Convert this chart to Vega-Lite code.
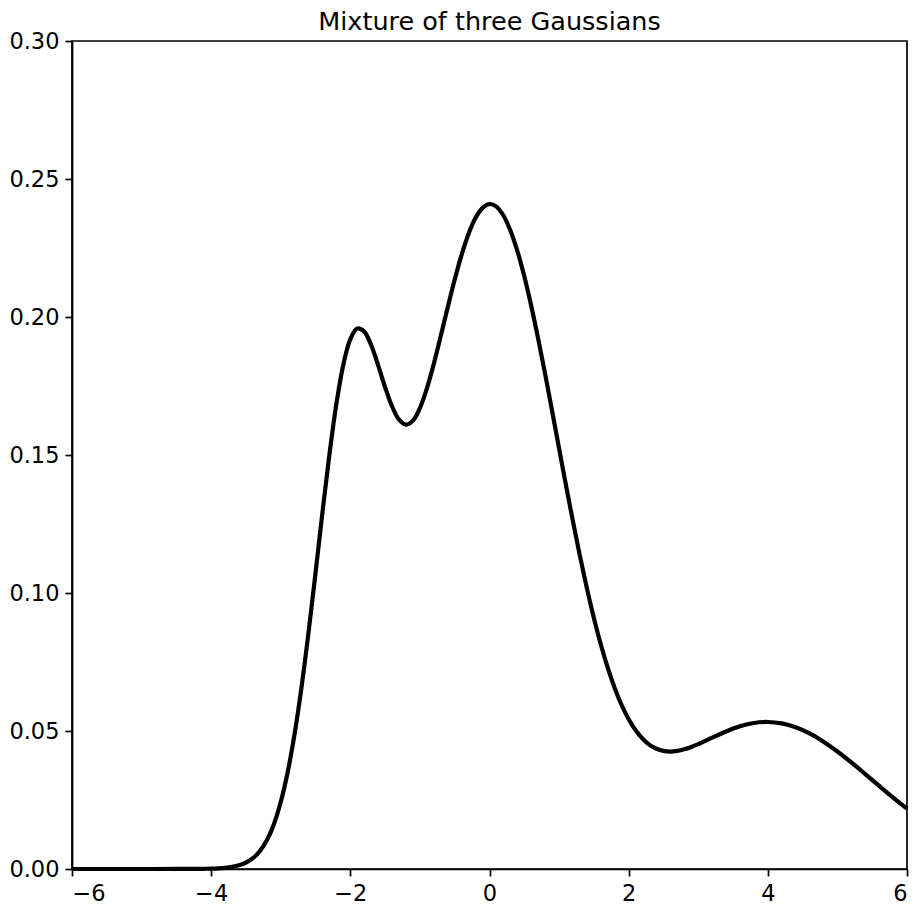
{
  "$schema": "https://vega.github.io/schema/vega-lite/v6.json",
  "autosize": {"type": "none"},
  "width": 835,
  "height": 828,
  "padding": {"left": 72, "top": 41, "right": 8, "bottom": 36},
  "background": "white",
  "title": {
    "text": "Mixture of three Gaussians",
    "font": "DejaVu Sans",
    "fontSize": 25.5,
    "fontWeight": "normal",
    "color": "black",
    "offset": -5,
    "anchor": "middle"
  },
  "config": {
    "view": {"stroke": "black", "strokeWidth": 1.7},
    "axis": {
      "grid": false,
      "domainColor": "black",
      "domainWidth": 1.7,
      "tickColor": "black",
      "tickWidth": 1.7,
      "tickSize": 7,
      "labelFont": "DejaVu Sans",
      "labelFontSize": 22.5,
      "labelColor": "black",
      "labelPadding": 6,
      "title": null
    }
  },
  "data": {
    "values": [
      {"x": -6, "y": 0},
      {"x": -5.5, "y": 0},
      {"x": -5, "y": 0.000001},
      {"x": -4.5, "y": 0.00001},
      {"x": -4.2, "y": 0.000045},
      {"x": -4.1, "y": 0.000077},
      {"x": -4.0, "y": 0.000134},
      {"x": -3.9, "y": 0.000236},
      {"x": -3.8, "y": 0.00042},
      {"x": -3.7, "y": 0.000748},
      {"x": -3.6, "y": 0.00132},
      {"x": -3.5, "y": 0.0023},
      {"x": -3.4, "y": 0.00391},
      {"x": -3.3, "y": 0.00647},
      {"x": -3.2, "y": 0.01039},
      {"x": -3.1, "y": 0.01615},
      {"x": -3.0, "y": 0.02426},
      {"x": -2.9, "y": 0.03515},
      {"x": -2.8, "y": 0.04912},
      {"x": -2.7, "y": 0.06615},
      {"x": -2.6, "y": 0.08583},
      {"x": -2.5, "y": 0.10731},
      {"x": -2.4, "y": 0.12932},
      {"x": -2.3, "y": 0.15029},
      {"x": -2.2, "y": 0.1686},
      {"x": -2.1, "y": 0.18282},
      {"x": -2.0, "y": 0.19199},
      {"x": -1.9, "y": 0.19581},
      {"x": -1.8, "y": 0.19471},
      {"x": -1.7, "y": 0.18976},
      {"x": -1.6, "y": 0.18248},
      {"x": -1.5, "y": 0.17456},
      {"x": -1.4, "y": 0.16759},
      {"x": -1.3, "y": 0.16282},
      {"x": -1.2, "y": 0.16101},
      {"x": -1.1, "y": 0.16245},
      {"x": -1.0, "y": 0.16698},
      {"x": -0.9, "y": 0.1741},
      {"x": -0.8, "y": 0.18309},
      {"x": -0.7, "y": 0.19318},
      {"x": -0.6, "y": 0.20358},
      {"x": -0.5, "y": 0.2136},
      {"x": -0.4, "y": 0.22264},
      {"x": -0.3, "y": 0.2302},
      {"x": -0.2, "y": 0.23593},
      {"x": -0.1, "y": 0.23956},
      {"x": 0, "y": 0.24094},
      {"x": 0.1, "y": 0.24001},
      {"x": 0.2, "y": 0.23678},
      {"x": 0.3, "y": 0.23137},
      {"x": 0.4, "y": 0.22395},
      {"x": 0.5, "y": 0.21474},
      {"x": 0.6, "y": 0.20401},
      {"x": 0.7, "y": 0.19208},
      {"x": 0.8, "y": 0.17928},
      {"x": 0.9, "y": 0.16594},
      {"x": 1.0, "y": 0.15238},
      {"x": 1.1, "y": 0.13892},
      {"x": 1.2, "y": 0.12583},
      {"x": 1.3, "y": 0.11335},
      {"x": 1.4, "y": 0.10168},
      {"x": 1.5, "y": 0.09097},
      {"x": 1.6, "y": 0.08134},
      {"x": 1.7, "y": 0.07284},
      {"x": 1.8, "y": 0.06551},
      {"x": 1.9, "y": 0.05933},
      {"x": 2.0, "y": 0.05426},
      {"x": 2.1, "y": 0.05024},
      {"x": 2.2, "y": 0.04718},
      {"x": 2.3, "y": 0.04498},
      {"x": 2.4, "y": 0.04355},
      {"x": 2.5, "y": 0.04278},
      {"x": 2.6, "y": 0.04256},
      {"x": 2.7, "y": 0.04279},
      {"x": 2.8, "y": 0.04337},
      {"x": 2.9, "y": 0.04422},
      {"x": 3.0, "y": 0.04525},
      {"x": 3.2, "y": 0.04757},
      {"x": 3.4, "y": 0.04984},
      {"x": 3.6, "y": 0.0517},
      {"x": 3.8, "y": 0.0529},
      {"x": 4.0, "y": 0.05327},
      {"x": 4.2, "y": 0.05276},
      {"x": 4.4, "y": 0.05135},
      {"x": 4.6, "y": 0.04911},
      {"x": 4.8, "y": 0.04614},
      {"x": 5.0, "y": 0.04259},
      {"x": 5.2, "y": 0.03863},
      {"x": 5.4, "y": 0.03441},
      {"x": 5.6, "y": 0.03012},
      {"x": 5.8, "y": 0.02589},
      {"x": 6.0, "y": 0.02187}
    ]
  },
  "mark": {"type": "line", "color": "black", "strokeWidth": 4.2, "interpolate": "catmull-rom", "strokeJoin": "round", "strokeCap": "butt"},
  "encoding": {
    "x": {
      "field": "x",
      "type": "quantitative",
      "scale": {"domain": [-6, 6], "nice": false, "zero": false},
      "axis": {"values": [-6, -4, -2, 0, 2, 4, 6], "format": "d"}
    },
    "y": {
      "field": "y",
      "type": "quantitative",
      "scale": {"domain": [0, 0.3], "nice": false},
      "axis": {"values": [0, 0.05, 0.1, 0.15, 0.2, 0.25, 0.3], "format": ".2f"}
    }
  }
}
